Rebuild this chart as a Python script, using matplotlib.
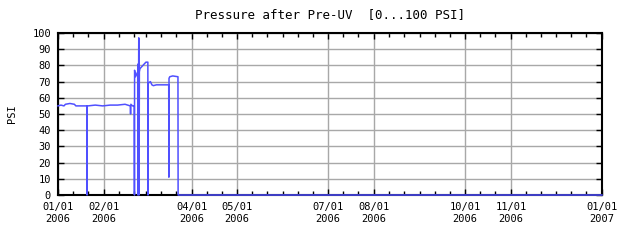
import matplotlib
matplotlib.use("Agg")
import matplotlib.pyplot as plt
import matplotlib.dates as mdates
import pandas as pd

# Days since 2006-01-01 and pressure readings (PSI)
days = [0, 2, 4, 5, 8, 11, 12, 19.4, 19.5, 19.6, 20, 25, 30, 35, 40, 45,
        48.5, 48.7, 48.9, 50, 51.2, 51.3, 51.4, 52, 53, 53.5, 53.6, 53.9,
        54.0, 54.2, 54.4, 54.6, 55, 57, 59, 60.3, 60.4, 60.5, 62, 63, 64,
        66, 70, 74.3, 74.4, 74.5, 75, 77, 80.5, 80.6, 365]
psi = [55, 55.5, 55, 56, 56.5, 56, 55, 55, 0, 55, 55, 55.5, 55, 55.5, 55.5, 56,
       55, 50, 56, 55, 55, 0, 77, 73, 75, 76, 0, 81,
       55, 97, 0, 76, 78, 80, 82, 82, 0, 69, 70, 68, 67.5,
       68, 68, 68, 11, 72, 73, 73.5, 73, 0, 0]

start = pd.Timestamp("2006-01-01")
dates = [start + pd.Timedelta(days=d) for d in days]

label_months = ["2006-01-01", "2006-02-01", "2006-04-01", "2006-05-01",
                "2006-07-01", "2006-08-01", "2006-10-01", "2006-11-01",
                "2007-01-01"]
label_dates = pd.to_datetime(label_months)
tick_labels = [d.strftime("%m/%d\n%Y") for d in label_dates]

plt.rcParams['font.family'] = ['DejaVu Sans Mono']
plt.rcParams['font.size'] = 7.5

fig = plt.figure(figsize=(6.4, 2.4), dpi=100)
ax = fig.add_axes([0.0906, 0.1875, 0.85, 0.675])

# line drawn above the spine so the zero level stays visible
ax.plot(dates, psi, color='#5050ff', linewidth=1.1, zorder=3, clip_on=False)

ax.set_xlim(start, pd.Timestamp("2007-01-01"))
ax.set_ylim(0, 100)
ax.set_yticks(range(0, 101, 10))
ax.set_xticks(label_dates)
ax.set_xticklabels(tick_labels)
ax.xaxis.set_minor_locator(mdates.DayLocator(bymonthday=[1, 11, 21]))

ax.grid(True, color='#a8a8a8', linewidth=1)
ax.set_axisbelow(True)
ax.tick_params(which='both', direction='in', top=True, right=True, color='black')
ax.tick_params(which='major', length=4, width=1, pad=5)
ax.tick_params(which='minor', length=3, width=1)
for s in ax.spines.values():
    s.set_linewidth(1.5)

ax.set_ylabel('PSI', labelpad=11)
ax.set_title('Pressure after Pre-UV  [0...100 PSI]', pad=11)

fig.savefig('out.png', dpi=100)
